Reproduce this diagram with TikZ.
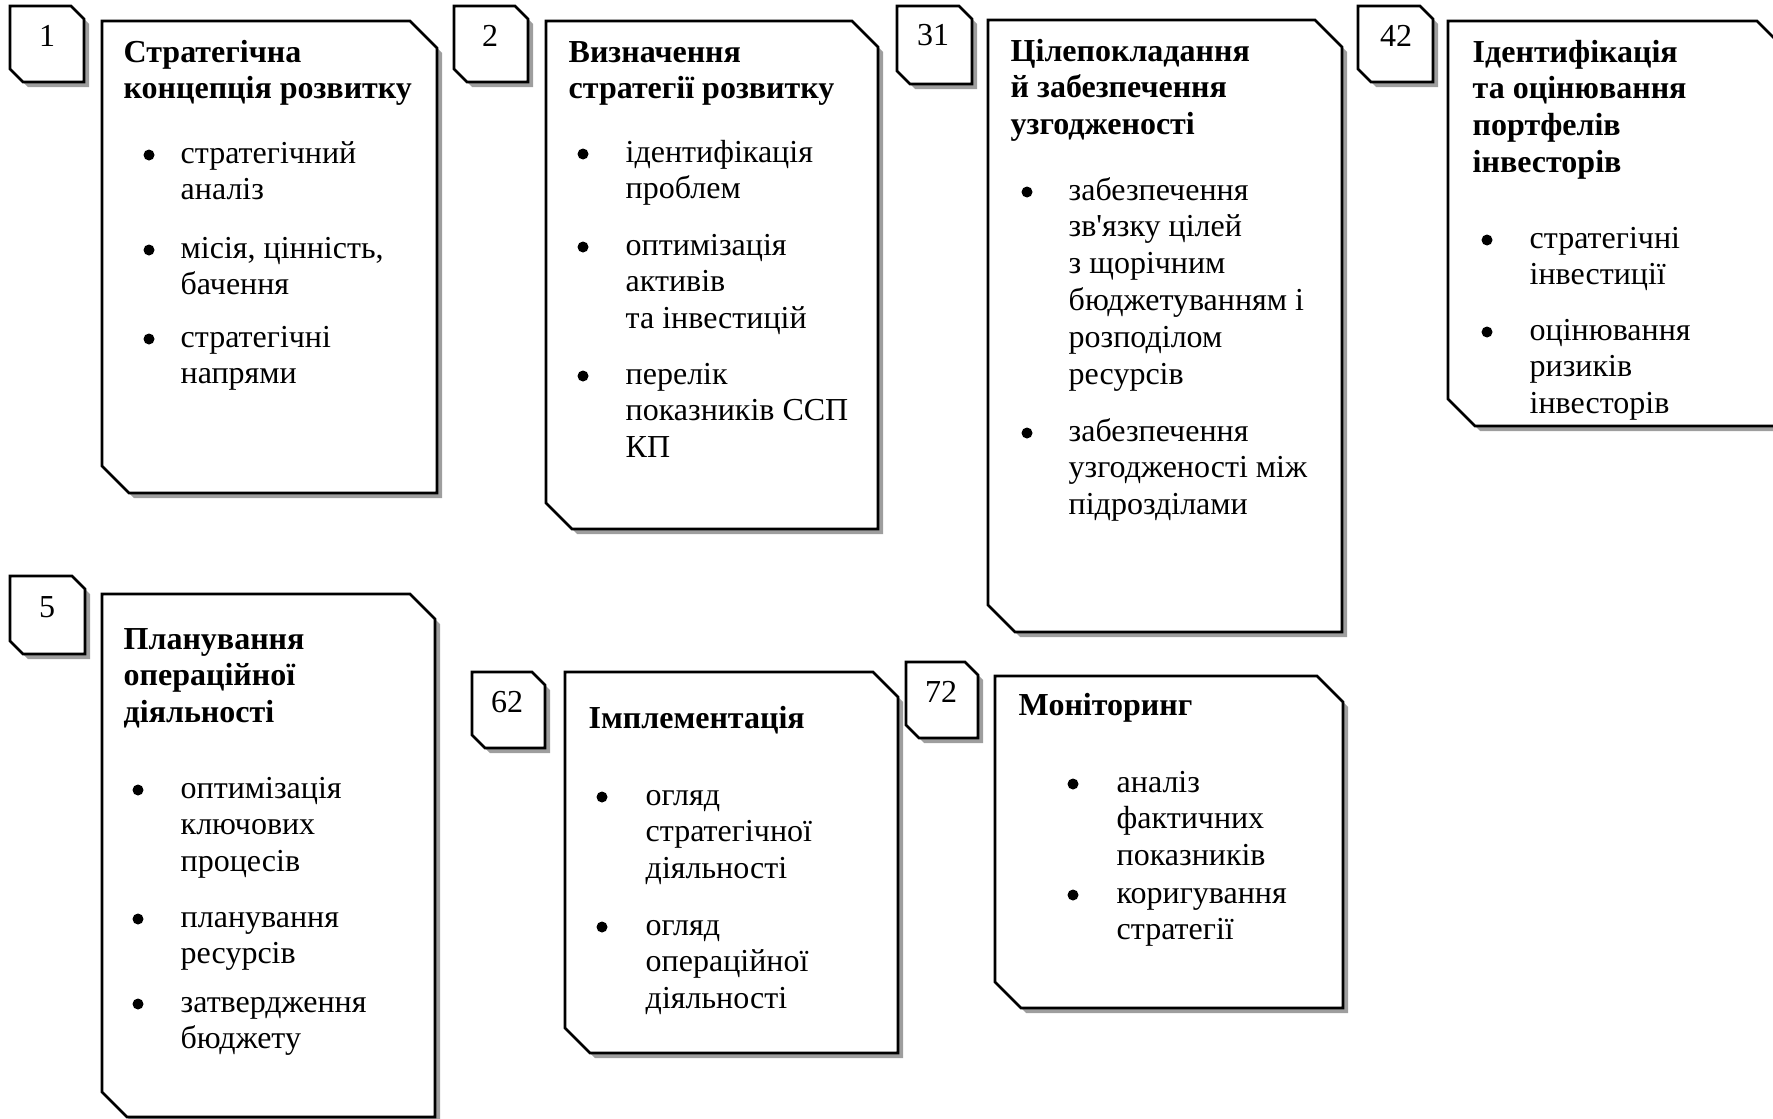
\documentclass[tikz,border=0pt]{standalone}
\usepackage{fontspec}
\setmainfont{Liberation Serif}[Ligatures=TeXOff]

% frame with cut corners: left, top, right, bottom, cut
\newcommand{\ramka}[5]{%
  \fill[shade] ({#1+5},{#2+5}) -- ({#3-#5+5},{#2+5}) -- ({#3+5},{#2+#5+5}) -- ({#3+5},{#4+5}) -- ({#1+#5+5},{#4+5}) -- ({#1+5},{#4-#5+5}) -- cycle;
  \draw[frame] (#1,#2) -- ({#3-#5},#2) -- (#3,{#2+#5}) -- (#3,#4) -- ({#1+#5},#4) -- (#1,{#4-#5}) -- cycle;
}
\newcommand{\punkt}[2]{\fill (#1,{#2-8}) circle (5.5);}
% lines hung from the first baseline
\newcommand{\rows}[1]{\begin{tabular}[t]{@{}l@{}}#1\end{tabular}}

\begin{document}
\fontsize{9.1pt}{10.5pt}\selectfont
\begin{tikzpicture}[x=0.01cm,y=-0.01cm,
  frame/.style={draw=black,line width=0.75pt,fill=white},
  shade/.style={fill=black!38},
  num/.style={anchor=base,inner sep=0pt},
  head/.style={anchor=base west,inner sep=0pt,font=\bfseries},
  item/.style={anchor=base west,inner sep=0pt}]
\useasboundingbox (0,0) rectangle (1773,1118);

% 1
\ramka{10}{6}{84}{82}{13}
\node[num] (n1) at (47,47) {1};
\ramka{102}{21}{437}{493}{27}
\node[head] (t1) at (123,62) {\rows{Стратегічна\\концепція розвитку}};
\node[item] (p1a) at (180,163) {\rows{стратегічний\\аналіз}};
\node[item] (p1b) at (180,258) {\rows{місія, цінність,\\бачення}};
\node[item] (p1c) at (180,347) {\rows{стратегічні\\напрями}};
\foreach \y in {163,258,347} {\punkt{149}{\y}}

% 2
\ramka{454}{6}{528}{82}{13}
\node[num] (n2) at (490,46) {2};
\ramka{546}{21}{878}{529}{26}
\node[head] (t2) at (568,62) {\rows{Визначення\\стратегії розвитку}};
\node[item] (p2a) at (625,162) {\rows{ідентифікація\\проблем}};
\node[item] (p2b) at (625,255) {\rows{оптимізація\\активів\\та інвестицій}};
\node[item] (p2c) at (625,384) {\rows{перелік\\показників ССП\\КП}};
\foreach \y in {162,255,384} {\punkt{583}{\y}}

% 31
\ramka{897}{6}{972}{84}{13}
\node[num] (n31) at (933,45) {31};
\ramka{988}{20}{1342}{632}{27}
\node[head] (t31) at (1010,61) {\rows{Цілепокладання\\й забезпечення\\узгодженості}};
\node[item] (p31a) at (1068,200) {\rows{забезпечення\\зв'язку цілей\\з щорічним\\бюджетуванням і\\розподілом\\ресурсів}};
\node[item] (p31b) at (1068,441) {\rows{забезпечення\\узгодженості між\\підрозділами}};
\foreach \y in {200,441} {\punkt{1027}{\y}}

% 42
\ramka{1358}{6}{1433}{82}{13}
\node[num] (n42) at (1396,47) {42};
\ramka{1448}{21}{1784}{426}{27}
\node[head] (t42) at (1472,62) {\rows{Ідентифікація\\та оцінювання\\портфелів\\інвесторів}};
\node[item] (p42a) at (1529,248) {\rows{стратегічні\\інвестиції}};
\node[item] (p42b) at (1529,340) {\rows{оцінювання\\ризиків\\інвесторів}};
\foreach \y in {248,340} {\punkt{1487}{\y}}

% 5
\ramka{10}{576}{85}{654}{13}
\node[num] (n5) at (47,617) {5};
\ramka{102}{594}{435}{1117}{25}
\node[head] (t5) at (123,649) {\rows{Планування\\операційної\\діяльності}};
\node[item] (p5a) at (180,798) {\rows{оптимізація\\ключових\\процесів}};
\node[item] (p5b) at (180,927) {\rows{планування\\ресурсів}};
\node[item] (p5c) at (180,1012) {\rows{затвердження\\бюджету}};
\foreach \y in {798,927,1012} {\punkt{138}{\y}}

% 62
\ramka{472}{672}{545}{748}{13}
\node[num] (n62) at (507,712) {62};
\ramka{565}{672}{898}{1053}{25}
\node[head] (t62) at (588,728) {Імплементація};
\node[item] (p62a) at (645,805) {\rows{огляд\\стратегічної\\діяльності}};
\node[item] (p62b) at (645,935) {\rows{огляд\\операційної\\діяльності}};
\foreach \y in {805,935} {\punkt{602}{\y}}

% 72
\ramka{906}{662}{978}{738}{13}
\node[num] (n72) at (941,702) {72};
\ramka{995}{676}{1343}{1008}{26}
\node[head] (t72) at (1018,715) {Моніторинг};
\node[item] (p72a) at (1116,792) {\rows{аналіз\\фактичних\\показників}};
\node[item] (p72b) at (1116,903) {\rows{коригування\\стратегії}};
\foreach \y in {792,903} {\punkt{1073}{\y}}
\end{tikzpicture}
\end{document}
